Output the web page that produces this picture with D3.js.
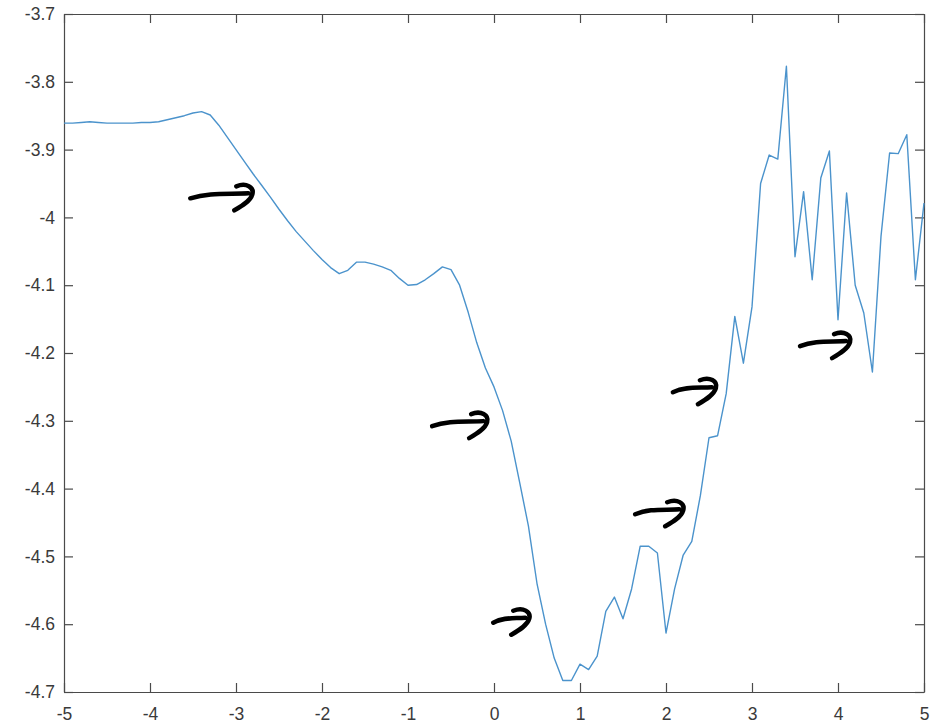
<!DOCTYPE html>
<html>
<head>
<meta charset="utf-8">
<script src="https://cdn.jsdelivr.net/npm/d3@7"></script>
<style>
  html, body { margin: 0; padding: 0; background: #fff; }
  svg { display: block; }
  .tick text { font-family: "Liberation Sans", Arial, sans-serif; font-size: 17.5px; fill: #3a3a3a; }
</style>
</head>
<body>
<svg id="chart" width="951" height="725"></svg>
<script>
// ---- data ----
const xValues = [
  -5.0,-4.9,-4.8,-4.7,-4.6,-4.5,-4.4,-4.3,-4.2,-4.1,
  -4.0,-3.9,-3.8,-3.7,-3.6,-3.5,-3.4,-3.3,-3.2,-3.1,
  -3.0,-2.9,-2.8,-2.7,-2.6,-2.5,-2.4,-2.3,-2.2,-2.1,
  -2.0,-1.9,-1.8,-1.7,-1.6,-1.5,-1.4,-1.3,-1.2,-1.1,
  -1.0,-0.9,-0.8,-0.7,-0.6,-0.5,-0.4,-0.3,-0.2,-0.1,
   0.0, 0.1, 0.2, 0.3, 0.4, 0.5, 0.6, 0.7, 0.8, 0.9,
   1.0, 1.1, 1.2, 1.3, 1.4, 1.5, 1.6, 1.7, 1.8, 1.9,
   2.0, 2.1, 2.2, 2.3, 2.4, 2.5, 2.6, 2.7, 2.8, 2.9,
   3.0, 3.1, 3.2, 3.3, 3.4, 3.5, 3.6, 3.7, 3.8, 3.9,
   4.0, 4.1, 4.2, 4.3, 4.4, 4.5, 4.6, 4.7, 4.8, 4.9,
   5.0
];
const yValues = [
  -3.861,-3.861,-3.860,-3.859,-3.860,-3.861,-3.861,-3.861,-3.861,-3.860,
  -3.860,-3.859,-3.856,-3.853,-3.850,-3.846,-3.844,-3.849,-3.864,-3.882,
  -3.900,-3.918,-3.936,-3.953,-3.970,-3.988,-4.005,-4.021,-4.035,-4.049,
  -4.062,-4.074,-4.083,-4.078,-4.066,-4.066,-4.069,-4.073,-4.078,-4.090,
  -4.100,-4.099,-4.092,-4.083,-4.073,-4.077,-4.100,-4.140,-4.185,-4.222,
  -4.250,-4.285,-4.330,-4.392,-4.455,-4.540,-4.600,-4.650,-4.683,-4.683,
  -4.659,-4.667,-4.647,-4.581,-4.560,-4.592,-4.548,-4.485,-4.485,-4.495,
  -4.613,-4.548,-4.498,-4.478,-4.410,-4.325,-4.322,-4.260,-4.146,-4.215,
  -4.132,-3.950,-3.908,-3.914,-3.777,-4.058,-3.962,-4.092,-3.942,-3.902,
  -4.151,-3.964,-4.100,-4.141,-4.228,-4.028,-3.905,-3.906,-3.878,-4.092,
  -3.979
];
const xTicks = [-5,-4,-3,-2,-1,0,1,2,3,4,5];
const yTicks = [-3.7,-3.8,-3.9,-4,-4.1,-4.2,-4.3,-4.4,-4.5,-4.6,-4.7];
const xDomain = [-5, 5];
const yDomain = [-4.7, -3.7];
// hand-drawn arrow annotations: tip position in data space, shaft length
const arrowTipX = [-2.81, -0.08, 0.41, 2.20, 2.58, 4.14];
const arrowTipY = [-3.963, -4.299, -4.589, -4.429, -4.249, -4.181];
const arrowLen  = [62, 55, 36, 48, 43, 50];

// ---- layout ----
const margin = {left: 64, top: 14, right: 27, bottom: 33};
const W = 951, H = 725;
const iw = W - margin.left - margin.right;
const ih = H - margin.top - margin.bottom;

const svg = d3.select("#chart");
const g = svg.append("g").attr("transform", `translate(${margin.left},${margin.top})`);

const x = d3.scaleLinear().domain(xDomain).range([0, iw]);
const y = d3.scaleLinear().domain(yDomain).range([ih, 0]);

const axisColor = "#4a4a4a";
const tk = 9;

function styleAxis(sel) {
  sel.select(".domain").attr("stroke", axisColor).attr("stroke-width", 1.2);
  sel.selectAll(".tick line").attr("stroke", axisColor).attr("stroke-width", 1.2);
}

// bottom axis
const xb = g.append("g").attr("transform", `translate(0,${ih})`)
  .call(d3.axisBottom(x).tickValues(xTicks).tickSize(-tk).tickSizeOuter(0).tickPadding(18)
    .tickFormat(d => d3.format("")(d).replace("−","-")));
styleAxis(xb);
xb.selectAll(".tick text").attr("dy", "0.71em").attr("y", 16);
// top axis (ticks only)
const xt = g.append("g")
  .call(d3.axisTop(x).tickValues(xTicks).tickSize(-tk).tickSizeOuter(0).tickFormat(""));
styleAxis(xt);
// left axis
const yl = g.append("g")
  .call(d3.axisLeft(y).tickValues(yTicks).tickSize(-tk).tickSizeOuter(0)
    .tickFormat(d => String(d)));
styleAxis(yl);
yl.selectAll(".tick text").attr("x", -9);
// right axis (ticks only)
const yr = g.append("g").attr("transform", `translate(${iw},0)`)
  .call(d3.axisRight(y).tickValues(yTicks).tickSize(-tk).tickSizeOuter(0).tickFormat(""));
styleAxis(yr);

// line
const pts = xValues.map((xv, i) => [xv, yValues[i]]);
g.append("path")
  .datum(pts)
  .attr("fill", "none")
  .attr("stroke", "#4b93cc")
  .attr("stroke-width", 1.4)
  .attr("stroke-linejoin", "round")
  .attr("d", d3.line().x(d => x(d[0])).y(d => y(d[1])));

// arrows
const arrows = arrowTipX.map((ax, i) => ({x: ax, y: arrowTipY[i], L: arrowLen[i]}));
const ag = g.append("g");
arrows.forEach(a => {
  const tx = x(a.x), ty = y(a.y);
  const L = a.L;
  const p = d3.path();
  p.moveTo(tx - L, ty + 6);
  p.bezierCurveTo(tx - L * 0.7, ty, tx - L * 0.4, ty + 2, tx - 4, ty + 1);
  p.moveTo(tx - 16, ty - 6);
  p.bezierCurveTo(tx - 6, ty - 10, tx + 2, ty - 5, tx, ty + 2);
  p.bezierCurveTo(tx - 2, ty + 9, tx - 11, ty + 14, tx - 18, ty + 18);
  ag.append("path")
    .attr("d", p.toString())
    .attr("fill", "none")
    .attr("stroke", "#000")
    .attr("stroke-width", 4.5)
    .attr("stroke-linecap", "round")
    .attr("stroke-linejoin", "round");
});
</script>
</body>
</html>
